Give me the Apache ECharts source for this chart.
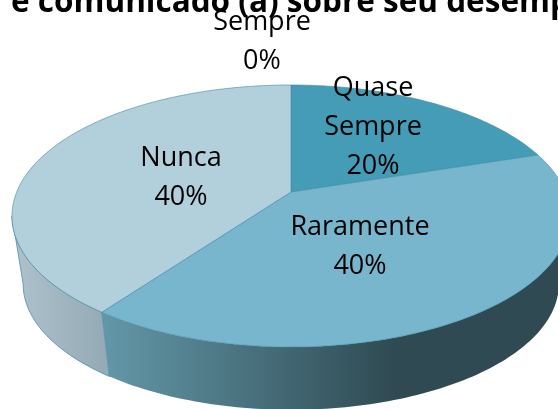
<!DOCTYPE html>
<html>
<head>
<meta charset="utf-8" />
<style>
  html, body { margin: 0; padding: 0; background: #fff; }
  #chart { width: 558px; height: 409px; overflow: hidden; }
</style>
<script src="https://cdn.jsdelivr.net/npm/echarts@6/dist/echarts.min.js"></script>
</head>
<body>
<div id="chart"></div>
<script>
const titleText = "e comunicado (a) sobre seu desempenho";
const categories = ["Sempre", "Quase\nSempre", "Raramente", "Nunca"];
const percents = [0, 20, 40, 40];

const font = "'Open Sans', 'Noto Sans', sans-serif";
const topColors = ["#449cb7", "#449cb7", "#78b6cd", "#b2cfdc"];
const labelCenters = [[262, 42], [373, 127], [360, 247], [181, 178]];

// perspective of the pie disc: k makes the far side smaller than the near side
const cx = 291, cy = 192, rimX = 274.3, rimY = 126.6, k = 0.183;
const bottomScale = 0.96, bottomCy = 261;
// the rim is on its widest point here, so the wall is only seen between these
const wallFrom = Math.acos(-k), wallTo = Math.PI * 2 - wallFrom;

function rim(theta, bottom) {
  const w = 1 + k * Math.cos(theta);
  const s = bottom ? bottomScale : 1;
  return [
    cx + (s * rimX * Math.sin(theta)) / w,
    (bottom ? bottomCy : cy) - (s * rimY * Math.cos(theta)) / w,
  ];
}

function arc(from, to, bottom) {
  const pts = [];
  const n = Math.max(2, Math.ceil((to - from) / 0.02));
  for (let i = 0; i <= n; i++) {
    pts.push(rim(from + ((to - from) * i) / n, bottom));
  }
  return pts;
}

function wallFill(i) {
  if (i === 2) {
    return new echarts.graphic.LinearGradient(102, 0, 395, 0, [
      { offset: 0, color: "#6398a9" },
      { offset: 1, color: "#2f4a52" },
    ], true);
  }
  return new echarts.graphic.LinearGradient(14, 0, 102, 0, [
    { offset: 0, color: "#aec2cc" },
    { offset: 1, color: "#95abb6" },
  ], true);
}

function renderSlice(params, api) {
  const i = params.dataIndex;
  const total = percents.reduce((a, b) => a + b, 0);
  const before = percents.slice(0, i).reduce((a, b) => a + b, 0);
  const from = (before / total) * Math.PI * 2;
  const to = ((before + api.value(0)) / total) * Math.PI * 2;
  const children = [];
  const a = Math.max(from, wallFrom);
  const b = Math.min(to, wallTo);
  if (b > a) {
    children.push({
      type: "polygon",
      z2: 1 + i,
      shape: { points: arc(a, b, false).concat(arc(a, b, true).reverse()) },
      style: {
        fill: wallFill(i),
        stroke: i === 3 ? "#4a8fa6" : null,
        lineWidth: 0.8,
      },
    });
  }
  if (to > from) {
    children.push({
      type: "polygon",
      z2: 10,
      shape: { points: [[cx, cy]].concat(arc(from, to, false)) },
      style: { fill: topColors[i], stroke: "#3f8aa3", lineWidth: 0.6 },
    });
  }
  children.push({
    type: "text",
    z2: 20,
    style: {
      x: labelCenters[i][0],
      y: labelCenters[i][1],
      text: categories[i] + "\n" + api.value(0) + "%",
      align: "center",
      verticalAlign: "middle",
      lineHeight: 39,
      fill: "#000",
      font: "27px " + font,
    },
  });
  return { type: "group", children: children };
}

let myChart = echarts.init(document.getElementById("chart"));
myChart.setOption({
  animation: false,
  backgroundColor: "#fff",
  title: {
    text: titleText,
    left: 6,
    top: -18,
    textStyle: { fontFamily: font, fontWeight: "bold", fontSize: 31.5, color: "#000" },
  },
  series: [
    {
      type: "custom",
      coordinateSystem: "none",
      renderItem: renderSlice,
      data: percents.map((v, i) => ({ name: categories[i], value: [v] })),
    },
  ],
});
</script>
</body>
</html>
